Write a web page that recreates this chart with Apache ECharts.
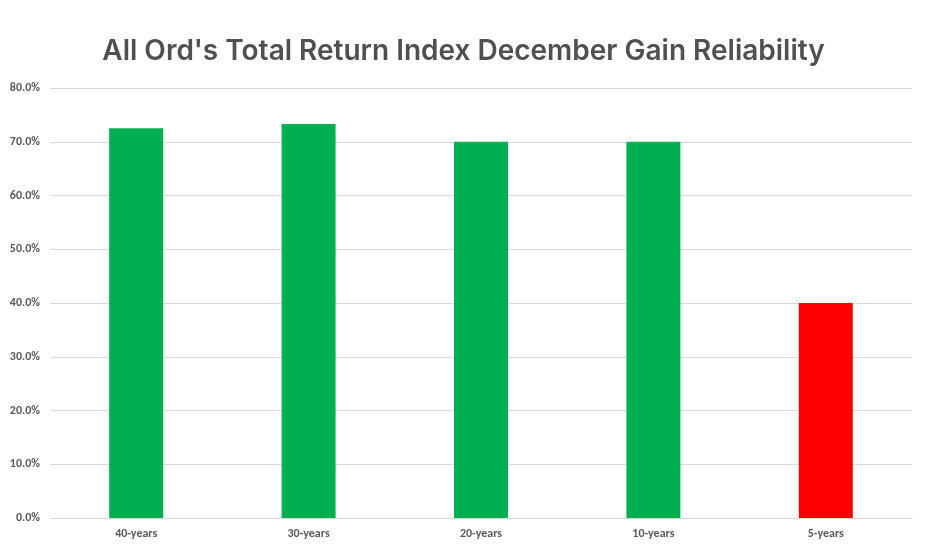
<!DOCTYPE html>
<html><head><meta charset="utf-8">
<script src="https://cdn.jsdelivr.net/npm/echarts@6/dist/echarts.min.js"></script>
<style>html,body{margin:0;padding:0;background:#fff}#c{width:927px;height:550px}</style>
</head><body><div id="c"></div>
<script>
var categories = ['40-years', '30-years', '20-years', '10-years', '5-years'];
var values = [72.5, 73.3, 70.0, 70.0, 40.0];
var barColors = ['#00B050', '#00B050', '#00B050', '#00B050', '#FF0000'];
var chart = echarts.init(document.getElementById('c'));
chart.setOption({
  animation: false,
  title: {
    text: "All Ord's Total Return Index December Gain Reliability",
    left: 'center', top: 33,
    textStyle: {fontFamily: 'Inter', fontWeight: 600, fontSize: 28, color: '#505050'}
  },
  grid: {left: 50, right: 15, top: 88, bottom: 32},
  xAxis: {
    type: 'category', data: categories,
    axisLine: {lineStyle: {color: '#D9D9D9'}},
    axisTick: {show: false},
    axisLabel: {color: '#595959', fontWeight: 'bold', fontSize: 12, fontFamily: 'Calibri, Carlito, Liberation Sans, sans-serif', margin: 10}
  },
  yAxis: {
    type: 'value', min: 0, max: 80, interval: 10,
    axisLine: {show: false}, axisTick: {show: false},
    splitLine: {lineStyle: {color: '#D9D9D9'}},
    axisLabel: {color: '#595959', fontWeight: 'bold', fontSize: 12, fontFamily: 'Calibri, Carlito, Liberation Sans, sans-serif', margin: 10,
      formatter: function (v) { return v.toFixed(1) + '%'; }}
  },
  series: [{
    type: 'bar', barWidth: 54,
    data: values.map(function (v, i) { return {value: v, itemStyle: {color: barColors[i]}}; })
  }]
});
</script></body></html>
